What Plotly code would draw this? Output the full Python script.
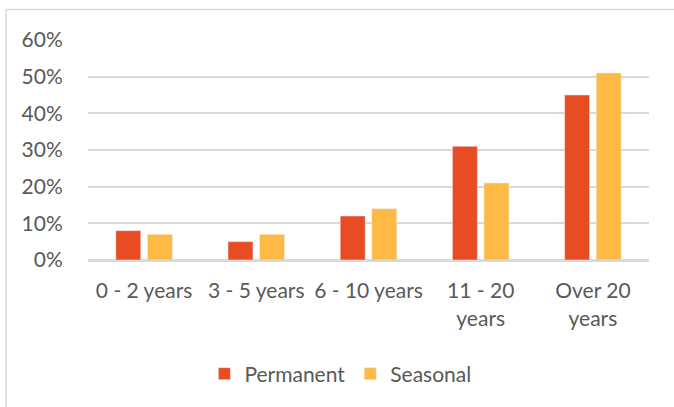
import plotly.graph_objects as go

# Share of respondents by length of tenure
categories = ["0 - 2 years", "3 - 5 years", "6 - 10 years", "11 - 20<br>years", "Over 20<br>years"]
permanent = [8, 5, 12, 31, 45]
seasonal = [7, 7, 14, 21, 51]
y_ticks = [0, 10, 20, 30, 40, 50, 60]
y_tick_labels = [f"{v}%" for v in y_ticks]

RED = "#E84C22"
YELLOW = "#FFBA45"
TEXT = "#595959"
GRID = "#D9D9D9"
FONT = "Lato"

W, H = 674, 407
ML, MR, MT, MB = 87.5, 25, 40, 147
pw, ph = W - ML - MR, H - MT - MB

def px_x(x):
    return (x - ML) / pw

def px_y(y):
    return (H - MB - y) / ph

fig = go.Figure()
fig.add_trace(go.Bar(name="Permanent", x=categories, y=permanent, marker_color=RED))
fig.add_trace(go.Bar(name="Seasonal", x=categories, y=seasonal, marker_color=YELLOW))

fig.update_layout(
    width=W, height=H,
    margin=dict(l=ML, r=MR, t=MT, b=MB, pad=0),
    paper_bgcolor="white", plot_bgcolor="white",
    barmode="group", bargap=0.437, bargroupgap=0.21,
    font=dict(family=FONT, size=21, color=TEXT),
    showlegend=True,
    legend=dict(
        orientation="h", xanchor="left", yanchor="middle",
        x=px_x(204), y=px_y(374),
        font=dict(family=FONT, size=21, color=TEXT),
        bgcolor="rgba(0,0,0,0)", itemclick=False, itemdoubleclick=False,
    ),
    xaxis=dict(
        showgrid=False, showline=False, zeroline=False,
        ticks="outside", ticklen=12, tickcolor="rgba(0,0,0,0)",
        tickfont=dict(family=FONT, size=21, color=TEXT),
        fixedrange=True,
    ),
    yaxis=dict(
        range=[0, 60], tickvals=y_ticks, ticktext=y_tick_labels,
        showgrid=True, gridcolor=GRID, gridwidth=1.5,
        zeroline=True, zerolinecolor=GRID, zerolinewidth=2.5,
        showline=False,
        ticks="outside", ticklen=20, tickcolor="rgba(0,0,0,0)",
        tickfont=dict(family=FONT, size=21, color=TEXT),
        fixedrange=True,
    ),
    shapes=[
        dict(type="rect", xref="paper", yref="paper",
             x0=px_x(5.5), x1=px_x(W + 5), y0=px_y(H + 5), y1=px_y(9.5),
             line=dict(color=GRID, width=1.5), fillcolor="rgba(0,0,0,0)", layer="below"),
    ],
)

fig.write_html("out.html", config={"displayModeBar": False})
